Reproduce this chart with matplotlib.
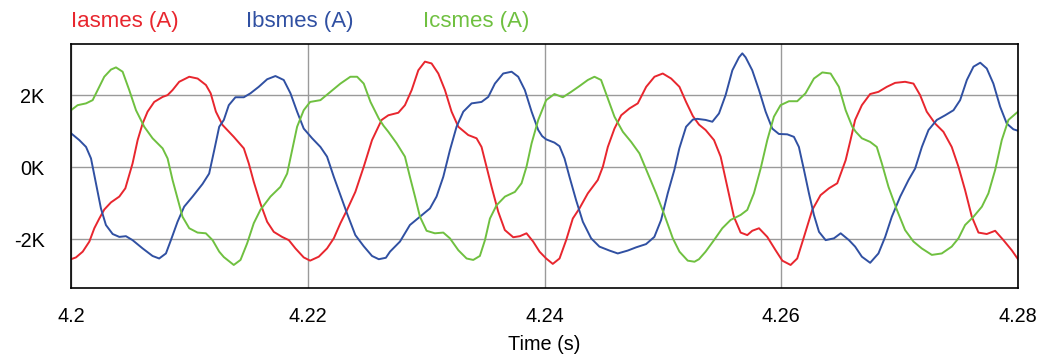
import matplotlib
matplotlib.use("Agg")
import matplotlib.pyplot as plt
from matplotlib.ticker import FuncFormatter

# time offsets (ms after 4.2 s) and currents (kA)
t_a_ms = [0, 0.42, 0.99, 1.55, 1.97, 2.39, 2.81, 3.38, 4.08, 4.59, 4.92, 5.2, 5.63, 6.05, 6.47, 7.03,
          7.74, 8.16, 8.58, 9.14, 9.99, 10.7, 11.4, 11.8, 12.24, 12.8,
          13.75, 14.6, 15.02, 15.44, 16.0, 16.57, 17.13, 17.83, 18.4, 18.96, 19.66, 20.2, 20.93,
          21.63, 22.2, 22.76, 23.32, 24.02, 24.73, 25.43,
          26.24, 26.81, 27.65, 28.21, 28.78, 29.34, 29.9, 30.46, 31.03, 31.59, 32.15, 32.72, 33.56,
          34.26, 34.68, 35.1, 35.53, 36.09, 36.65, 37.36, 37.92, 38.48, 39.04,
          39.58, 40.14, 40.7, 41.27, 41.83, 42.39, 42.95, 43.66, 44.5, 44.93, 45.35, 45.91, 46.48,
          47.18, 47.88, 48.59, 49.29, 49.99, 50.7, 51.4, 51.96, 52.53,
          53.05, 53.61, 54.32, 54.88, 55.44, 56.0, 56.57, 57.13, 57.55, 58.12, 58.82, 59.52, 60.09,
          60.79, 61.35, 61.92, 62.62, 63.32, 64.03, 64.73, 65.44, 65.85,
          66.24, 66.81, 67.51, 68.21, 68.92, 69.62, 70.46, 71.17, 71.73, 72.29, 73.0, 73.7, 74.4,
          74.97, 75.53, 76.1, 76.66, 77.36, 78.07, 78.77, 79.47, 80.0]
i_a = [-2.56, -2.51, -2.35, -2.07, -1.70, -1.43, -1.18, -0.98, -0.82, -0.59, -0.22, 0.10, 0.75, 1.21,
       1.54, 1.81, 1.95, 2.0, 2.14, 2.37, 2.51, 2.46, 2.28, 2.05, 1.54, 1.17,
       0.84, 0.52, 0.10, -0.41, -1.01, -1.52, -1.80, -1.94, -2.03, -2.26, -2.51, -2.60, -2.49,
       -2.26, -1.98, -1.56, -1.19, -0.69, 0.01, 0.75,
       1.31, 1.44, 1.51, 1.72, 2.14, 2.69, 2.93, 2.88, 2.60, 2.14, 1.54, 1.12, 0.89,
       0.80, 0.56, 0.01, -0.55, -1.24, -1.75, -1.95, -1.92, -1.84, -2.07,
       -2.35, -2.54, -2.69, -2.54, -2.03, -1.43, -1.15, -0.73, -0.36, 0.01, 0.56, 1.07, 1.44,
       1.63, 1.77, 2.23, 2.51, 2.60, 2.46, 2.23, 1.81, 1.42,
       1.18, 1.03, 0.75, 0.29, -0.55, -1.38, -1.82, -1.89, -1.77, -1.70, -1.94, -2.31, -2.60,
       -2.72, -2.54, -1.94, -1.19, -0.78, -0.59, -0.45, 0.19, 0.75,
       1.31, 1.72, 2.03, 2.09, 2.23, 2.34, 2.37, 2.32, 2.0, 1.54, 1.21, 0.98, 0.56,
       0.01, -0.64, -1.38, -1.82, -1.86, -1.77, -2.03, -2.31, -2.56]

t_b_ms = [0, 0.7, 1.27, 1.69, 2.11, 2.53, 2.95, 3.52, 4.08, 4.64, 5.2, 6.05, 6.89, 7.45, 8.02, 8.44,
          9.0, 9.56, 10.27, 11.11, 11.67, 12.1, 12.52,
          12.91, 13.33, 13.89, 14.6, 15.16, 15.86, 16.57, 17.27, 17.97, 18.54, 19.1, 19.66, 20.37,
          21.07, 21.63, 22.2, 22.76, 23.32, 24.02, 24.73, 25.43, 26.0,
          26.6, 26.95, 27.79, 28.63, 29.48, 30.32, 30.88, 31.45, 32.01, 32.57, 33.14, 33.84, 34.68,
          35.25, 35.81, 36.51, 37.22, 37.78, 38.34, 38.91, 39.47,
          39.8, 40.14, 40.84, 41.27, 41.69, 42.11, 42.67, 43.24, 43.94, 44.64, 45.49, 46.19, 47.03,
          47.74, 48.58, 49.28, 49.85, 50.41, 50.97, 51.39, 51.96, 52.53,
          52.91, 53.61, 54.18, 54.74, 55.3, 55.87, 56.43, 56.71, 56.99, 57.55, 58.12, 58.68, 59.24,
          59.8, 60.51, 61.07, 61.49, 61.92, 62.34, 62.76, 63.19, 63.75, 64.45, 65.02, 65.72,
          66.24, 66.81, 67.51, 68.21, 68.78, 69.34, 70.05, 70.75, 71.31, 71.88, 72.44, 73.14,
          73.85, 74.55, 75.11, 75.68, 76.24, 76.81, 77.36, 77.92, 78.49, 79.05, 79.61, 80.0]
i_b = [0.94, 0.75, 0.56, 0.24, -0.45, -1.15, -1.61, -1.86, -1.94, -1.92, -2.03, -2.26, -2.47, -2.54,
       -2.40, -2.03, -1.52, -1.10, -0.82, -0.47, -0.18, 0.47, 1.12,
       1.31, 1.72, 1.94, 1.94, 2.05, 2.23, 2.44, 2.53, 2.42, 2.05, 1.54, 1.07, 0.80,
       0.56, 0.29, -0.27, -0.78, -1.29, -1.89, -2.20, -2.47, -2.56,
       -2.52, -2.35, -2.07, -1.61, -1.38, -1.15, -0.82, -0.27, 0.47, 1.12, 1.54, 1.77, 1.81,
       1.95, 2.32, 2.60, 2.65, 2.51, 2.14, 1.54, 1.03,
       0.86, 0.77, 0.68, 0.58, 0.24, -0.27, -0.92, -1.52, -1.98, -2.21, -2.32, -2.40, -2.32,
       -2.23, -2.14, -1.94, -1.47, -0.73, -0.08, 0.52, 1.12, 1.32,
       1.34, 1.31, 1.26, 1.49, 2.0, 2.69, 3.05, 3.16, 3.05, 2.69, 2.14, 1.54, 1.07,
       0.92, 0.91, 0.84, 0.56, -0.08, -0.73, -1.33, -1.80, -2.03, -1.98, -1.84, -2.03,
       -2.21, -2.49, -2.66, -2.40, -1.94, -1.38, -0.82, -0.36, -0.04, 0.56, 1.03, 1.31,
       1.44, 1.58, 1.86, 2.42, 2.79, 2.90, 2.74, 2.32, 1.68, 1.21, 1.05, 1.01]

t_c_ms = [0, 0.56, 1.27, 1.83, 2.25, 2.81, 3.38, 3.8, 4.36, 4.92, 5.49, 6.19, 6.89, 7.74, 8.16, 8.58,
          9.0, 9.42, 9.99, 10.69, 11.39, 11.96, 12.52,
          12.91, 13.75, 14.32, 14.88, 15.44, 16.0, 16.85, 17.69, 18.26, 18.68, 19.1, 19.66, 20.2,
          21.07, 21.91, 22.76, 23.6, 24.17, 24.73, 25.3, 26.0,
          26.4, 26.81, 27.51, 28.21, 28.63, 29.06, 29.48, 30.04, 30.74, 31.45, 32.01, 32.72, 33.42,
          33.98, 34.54, 34.97, 35.39, 35.95, 36.66, 37.5, 38.06, 38.48, 38.91, 39.47,
          40.14, 40.84, 41.55, 42.25, 42.95, 43.66, 44.22, 44.78, 45.35, 45.91, 46.62, 47.32,
          48.02, 48.73, 49.43, 50.13, 50.84, 51.4, 52.1, 52.67,
          53.05, 53.61, 54.32, 55.02, 55.72, 56.57, 57.13, 57.69, 58.26, 58.82, 59.38, 59.94,
          60.65, 61.35, 62.05, 62.76, 63.47, 64.17, 64.87, 65.44, 66.0,
          66.3, 66.81, 67.51, 68.07, 68.5, 69.06, 69.77, 70.46, 71.17, 71.87, 72.72, 73.56, 74.4,
          74.97, 75.53, 76.24, 76.95, 77.5, 78.07, 78.63, 79.19, 80.0]
i_c = [1.58, 1.72, 1.77, 1.86, 2.14, 2.51, 2.71, 2.77, 2.65, 2.14, 1.58, 1.12, 0.80, 0.52, 0.24,
       -0.36, -0.87, -1.38, -1.70, -1.82, -1.84, -2.03, -2.35,
       -2.50, -2.72, -2.58, -2.12, -1.56, -1.19, -0.82, -0.55, -0.18, 0.47, 1.12, 1.58, 1.81,
       1.86, 2.09, 2.32, 2.51, 2.51, 2.32, 1.81, 1.35,
       1.15, 0.98, 0.66, 0.29, -0.27, -0.82, -1.38, -1.77, -1.84, -1.82, -1.98, -2.31, -2.54,
       -2.58, -2.47, -2.03, -1.43, -1.06, -0.82, -0.69, -0.45, 0.01, 0.66, 1.31,
       1.86, 2.03, 1.94, 2.09, 2.25, 2.42, 2.51, 2.42, 1.91, 1.40, 0.98, 0.70,
       0.38, -0.18, -0.73, -1.33, -1.98, -2.35, -2.60, -2.63,
       -2.56, -2.35, -2.03, -1.70, -1.47, -1.33, -1.19, -0.73, -0.04, 0.75, 1.40, 1.72,
       1.83, 1.83, 2.05, 2.46, 2.63, 2.60, 2.23, 1.58, 1.12,
       0.98, 0.80, 0.70, 0.56, 0.10, -0.55, -1.19, -1.75, -2.07, -2.26, -2.44, -2.40, -2.21,
       -1.98, -1.61, -1.38, -1.10, -0.73, -0.08, 0.75, 1.31, 1.54]

names = ['Iasmes (A)', 'Ibsmes (A)', 'Icsmes (A)']
colors = ['#e8262e', '#3050a2', '#6fc040']
x_ticks = [4.2, 4.22, 4.24, 4.26, 4.28]
x_tick_labels = ['4.2', '4.22', '4.24', '4.26', '4.28']
y_ticks = [-2, 0, 2]

plt.rcParams['font.family'] = ['Liberation Sans', 'DejaVu Sans']

fig = plt.figure(figsize=(10.46, 3.56), dpi=100)
ax = fig.add_axes([71 / 1046, 1 - 288 / 356, (1018 - 71) / 1046, (288 - 44) / 356])

series = [(t_a_ms, i_a), (t_b_ms, i_b), (t_c_ms, i_c)]
for (t_ms, vals), col in zip(series, colors):
    t = [4.2 + v / 1000 for v in t_ms]
    ax.plot(t, vals, color=col, lw=1.4, solid_joinstyle='round')

ax.set_xlim(4.2, 4.28)
ax.set_ylim(-3.36, 3.42)
ax.set_xticks(x_ticks)
ax.set_xticklabels(x_tick_labels)
ax.set_yticks(y_ticks)
ax.yaxis.set_major_formatter(FuncFormatter(lambda v, p: '%dK' % v))
ax.tick_params(axis='x', length=0, pad=14, labelsize=14.3)
ax.tick_params(axis='y', length=0, pad=19, labelsize=14.3)
ax.grid(True, color='#9a9a9a', lw=1.0)
ax.set_axisbelow(True)
for sp in ax.spines.values():
    sp.set_linewidth(1.2)
    sp.set_color('black')

ax.set_xlabel('Time (s)', fontsize=14.3, labelpad=6)

# series names across the top, in their trace colours
name_x = [71 / 1046, 246 / 1046, 423 / 1046]
for nm, col, xx in zip(names, colors, name_x):
    fig.text(xx, 1 - 21 / 356, nm, color=col, fontsize=16, va='center', ha='left')

fig.savefig('out.png', dpi=100)
